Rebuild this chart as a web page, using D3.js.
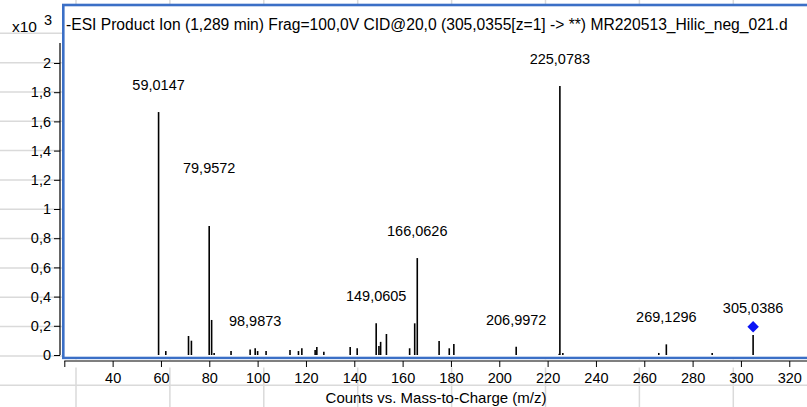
<!DOCTYPE html>
<html>
<head>
<meta charset="utf-8">
<script src="https://cdn.jsdelivr.net/npm/d3@7"></script>
<style>
  body { margin: 0; background: #fff; }
  svg { display: block; font-family: "Liberation Sans", Arial, sans-serif; }
</style>
</head>
<body>
<svg id="chart" width="807" height="407"></svg>
<script>
// spectrum title and axis text
const titleText = "-ESI Product Ion (1,289 min) Frag=100,0V CID@20,0 (305,0355[z=1] -> **) MR220513_Hilic_neg_021.d";
const xTitle = "Counts vs. Mass-to-Charge (m/z)";

// centroid peaks: m/z and abundance (counts)
const peakMz = [59.0147, 62.0, 71.4, 72.6, 79.9572, 80.965, 82.0, 89.0, 96.9, 98.9873,
    100.0, 103.5, 113.4, 116.9, 118.3, 123.8, 124.5, 127.4, 138.3, 141.2,
    149.0605, 150.2, 150.9, 153.3, 162.9, 165.0, 166.0626, 175.1, 179.3, 181.2,
    206.9972, 224.8, 225.0783, 226.3, 266.0, 269.1296, 288.1, 305.0386];
const peakCounts = [1664, 27, 130, 98, 884, 240, 14, 27, 37, 46,
    27, 27, 34, 27, 46, 34, 55, 22, 55, 46,
    217, 62, 90, 144, 46, 217, 664, 96, 46, 75,
    57, 8, 1842, 14, 14, 73, 14, 137];

// peaks that get an m/z label
const labelledMz = [59.0147, 79.9572, 98.9873, 149.0605, 166.0626, 206.9972, 225.0783, 269.1296, 305.0386];

// precursor marker (blue diamond)
const precursorMz = 305.0355;
const precursorLevel = 194;

const xTicks = d3.range(20, 321, 20);
const yTicks = d3.range(0, 2001, 200);

const svg = d3.select('#chart');
const W = 807, H = 407;

// european style numbers (comma as decimal mark)
const locale = d3.formatLocale({ decimal: ",", thousands: ".", grouping: [3], currency: ["", ""] });
const fmtY = locale.format("~g");
const fmtMz = locale.format(".4f");

const x = d3.scaleLinear().domain([20, 328]).range([64.3, 808.6]);
const y = d3.scaleLinear().domain([0, 2137]).range([355, 43]);

// spreadsheet cell grid behind the chart
const grid = svg.append('g').attr('stroke', '#dadada').attr('stroke-width', 1.5);
d3.range(9).forEach(k => {
    grid.append('line').attr('x1', 76 + 93.9 * k).attr('x2', 76 + 93.9 * k).attr('y1', 0).attr('y2', H);
});
d3.range(13).forEach(k => {
    grid.append('line').attr('y1', 33.3 + 29.33 * k).attr('y2', 33.3 + 29.33 * k).attr('x1', 0).attr('x2', W);
});

// white plot pane with blue selection border
svg.append('rect')
    .attr('x', 63.3).attr('y', 5).attr('width', 760).attr('height', 353)
    .attr('fill', '#fff')
    .attr('stroke', '#3b6fc6').attr('stroke-width', 2.6);

// cover grid below the axis line strip
svg.append('rect').attr('x', 62).attr('y', 359.5).attr('width', W).attr('height', 8).attr('fill', '#fff');

// y axis
const yAxis = svg.append('g')
    .attr('transform', 'translate(60,0)')
    .call(d3.axisLeft(y).tickValues(yTicks).tickSize(6).tickPadding(3).tickFormat(d => fmtY(d / 1000)));
yAxis.select('.domain').attr('d', `M0,${y(0)}V${y.range()[1]}`).attr('stroke', '#000').attr('stroke-width', 1.2);
yAxis.selectAll('text').attr('font-size', 14.5).attr('fill', '#000').attr('font-family', null);

// x axis
const xAxis = svg.append('g')
    .attr('transform', 'translate(0,361)')
    .call(d3.axisBottom(x).tickValues(xTicks).tickSize(6).tickPadding(6).tickFormat(d => d === 20 ? '' : d));
xAxis.select('.domain').attr('d', `M${x(20)},0H${W}`).attr('stroke', '#000').attr('stroke-width', 1.2);
xAxis.selectAll('text').attr('font-size', 14.5).attr('fill', '#000').attr('font-family', null);

// multiplier
const mult = svg.append('text').attr('x', 12).attr('y', 32).attr('font-size', 15.5).attr('fill', '#000');
mult.append('tspan').text('x10');
mult.append('tspan').attr('x', 44).attr('y', 25).attr('font-size', 14.5).text('3');

// title, fitted to its width in the reference
const title = svg.append('text').attr('x', 66).attr('y', 29.5).attr('font-size', 14).attr('fill', '#000').text(titleText);
title.attr('font-size', 14 * 722 / title.node().getComputedTextLength());

const xt = svg.append('text').attr('x', 436).attr('y', 402.5).attr('text-anchor', 'middle')
    .attr('font-size', 14).attr('fill', '#000').text(xTitle);
xt.attr('font-size', 14 * 221 / xt.node().getComputedTextLength());

// peaks
const peaks = peakMz.map((m, i) => ({ mz: m, counts: peakCounts[i] }));
svg.append('g').selectAll('line').data(peaks).join('line')
    .attr('x1', d => x(d.mz)).attr('x2', d => x(d.mz))
    .attr('y1', y(0)).attr('y2', d => y(d.counts))
    .attr('stroke', '#000').attr('stroke-width', 1.6);

// peak labels
const labelled = peaks.filter(d => labelledMz.includes(d.mz));
svg.append('g').selectAll('text').data(labelled).join('text')
    .attr('x', d => x(d.mz))
    .attr('y', d => y(d.counts) - (d.mz === 79.9572 ? 53 : 22))
    .attr('text-anchor', 'middle').attr('font-size', 14.5).attr('fill', '#000')
    .text(d => fmtMz(d.mz));

// precursor diamond
svg.append('path')
    .attr('d', d3.symbol(d3.symbolDiamond2, 84)())
    .attr('transform', `translate(${x(precursorMz)},${y(precursorLevel)})`)
    .attr('fill', '#0a14f5');
</script>
</body>
</html>
